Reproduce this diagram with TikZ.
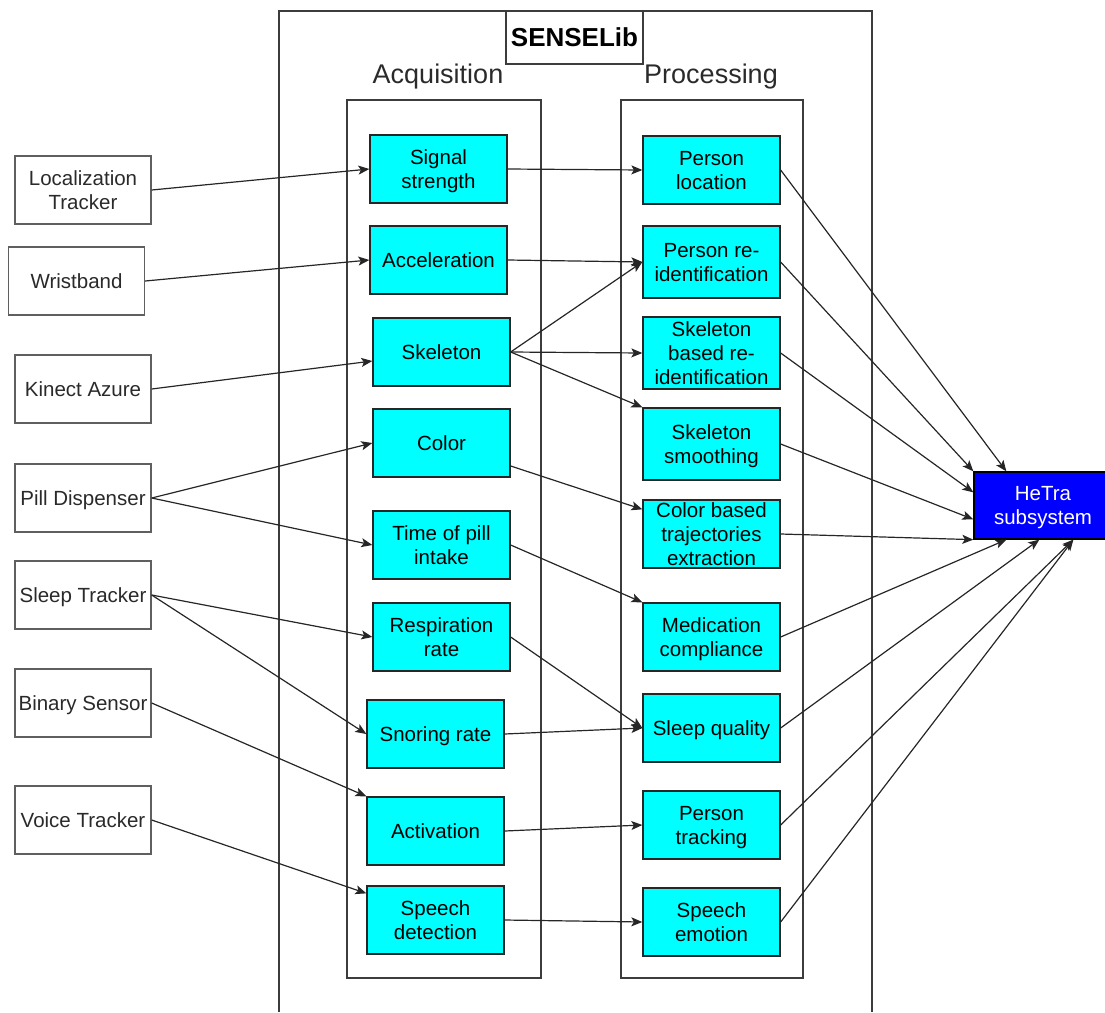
\documentclass[tikz,border=0pt]{standalone}
\usepackage{fontspec}
\setmainfont{Liberation Sans}
\usetikzlibrary{arrows.meta}
\definecolor{boxcyan}{HTML}{00FFFF}
\definecolor{hetrablue}{HTML}{0000FF}
\definecolor{srcline}{HTML}{5F5F5F}
\definecolor{frameline}{HTML}{3C3C3C}
\definecolor{txtgray}{HTML}{2A2A2A}
\begin{document}
\begin{tikzpicture}[x=1pt, y=-1pt,
  boxtext/.style={font=\fontsize{20.5}{24}\selectfont, align=center, inner sep=0pt,
    text depth=0pt},
  source/.style={boxtext, draw=srcline, line width=1.4pt, fill=white, text=txtgray,
    minimum width=136, minimum height=68},
  acqbox/.style={boxtext, draw=black!85, line width=1.3pt, fill=boxcyan,
    minimum width=137, minimum height=68},
  hetrabox/.style={boxtext, draw=black, line width=1.3pt, fill=hetrablue, text=white,
    minimum width=138, minimum height=67},
  frame/.style={draw=frameline, line width=1.3pt},
  title/.style={font=\fontsize{27}{32}\selectfont, text=txtgray, inner sep=0pt, anchor=base},
  link/.style={draw=black!85, line width=1.2pt, -{Stealth[length=11pt, width=9pt, inset=2.5pt]}}
]
\useasboundingbox (0,0) rectangle (1105,1012);

% SENSELib frame, open at the bottom
\draw[frame] (279,1012) -- (279,11) -- (872,11) -- (872,1012);
\node[draw=frameline, line width=1.3pt, fill=white, minimum width=137, minimum height=53,
      inner sep=0pt, font=\fontsize{26}{30}\selectfont\bfseries] (lib) at (574.5,37.5) {SENSELib};

% stage columns
\node[title] (acqtitle) at (438,83) {Acquisition};
\node[title] (proctitle) at (711,83) {Processing};
\draw[frame] (347,100) rectangle (541,978);
\draw[frame] (621,100) rectangle (803,978);

% devices
\node[source] (loc)   at (83,190)   {Localization\\Tracker};
\node[source] (wrist) at (76.5,281) {Wristband};
\node[source] (kin)   at (83,389)   {Kinect Azure};
\node[source] (pilld) at (83,498)   {Pill Dispenser};
\node[source] (sleep) at (83,595)   {Sleep Tracker};
\node[source] (bin)   at (83,703)   {Binary Sensor};
\node[source] (voice) at (83,820)   {Voice Tracker};

% acquisition
\node[acqbox] (sig)    at (438.5,169) {Signal\\strength};
\node[acqbox] (acc)    at (438.5,260) {Acceleration};
\node[acqbox] (skel)   at (441.5,352) {Skeleton};
\node[acqbox] (color)  at (441.5,443) {Color};
\node[acqbox] (pill)   at (441.5,545) {Time of pill\\intake};
\node[acqbox] (resp)   at (441.5,637) {Respiration\\rate};
\node[acqbox] (snore)  at (435.5,734) {Snoring rate};
\node[acqbox] (act)    at (435.5,831) {Activation};
\node[acqbox] (speech) at (435.5,920) {Speech\\detection};

% processing
\node[acqbox] (ploc)  at (711.5,170) {Person\\location};
\node[acqbox, minimum height=72] (preid) at (711.5,262) {Person re-\\identification};
\node[acqbox, minimum height=72] (sbr)   at (711.5,353) {Skeleton\\based re-\\identification};
\node[acqbox, minimum height=72] (ssm)   at (711.5,444) {Skeleton\\smoothing};
\node[acqbox] (cbt)   at (711.5,534) {Color based\\trajectories\\extraction};
\node[acqbox] (med)   at (711.5,637) {Medication\\compliance};
\node[acqbox] (sq)    at (711.5,728) {Sleep quality};
\node[acqbox] (ptr)   at (711.5,825) {Person\\tracking};
\node[acqbox] (sem)   at (711.5,922) {Speech\\emotion};

% target subsystem (runs off the right edge)
\node[hetrabox] (hetra) at (1043,505.5) {HeTra\\subsystem};

% devices -> acquisition
\draw[link] (loc.east) -- (sig.west);
\draw[link] (wrist.east) -- (acc.west);
\draw[link] (kin.east) -- ([yshift=-9pt]skel.west);
\draw[link] (pilld.east) -- (color.west);
\draw[link] (pilld.east) -- (pill.west);
\draw[link] (sleep.east) -- (resp.west);
\draw[link] (sleep.east) -- (snore.west);
\draw[link] (bin.east) -- (act.north west);
\draw[link] (voice.east) -- ([yshift=-8pt]speech.north west);

% acquisition -> processing
\draw[link] (sig.east) -- (ploc.west);
\draw[link] (acc.east) -- (preid.west);
\draw[link] (skel.east) -- (preid.west);
\draw[link] (skel.east) -- (sbr.west);
\draw[link] (skel.east) -- (ssm.north west);
\draw[link] ([yshift=-23pt]color.east) -- ([yshift=-10pt]cbt.north west);
\draw[link] (pill.east) -- (med.north west);
\draw[link] (resp.east) -- (sq.west);
\draw[link] (snore.east) -- (sq.west);
\draw[link] (act.east) -- (ptr.west);
\draw[link] (speech.east) -- (sem.west);

% processing -> HeTra
\draw[link] (ploc.east) -- ([xshift=33pt]hetra.north west);
\draw[link] (preid.east) -- (hetra.north west);
\draw[link] (sbr.east) -- ([yshift=-21pt]hetra.north west);
\draw[link] (ssm.east) -- ([yshift=-48pt]hetra.north west);
\draw[link] (cbt.east) -- (hetra.south west);
\draw[link] (med.east) -- ([xshift=33pt]hetra.south west);
\draw[link] (sq.east) -- ([xshift=66pt]hetra.south west);
\draw[link] (ptr.east) -- ([xshift=100pt]hetra.south west);
\draw[link] (sem.east) -- ([xshift=100pt]hetra.south west);
\end{tikzpicture}
\end{document}
